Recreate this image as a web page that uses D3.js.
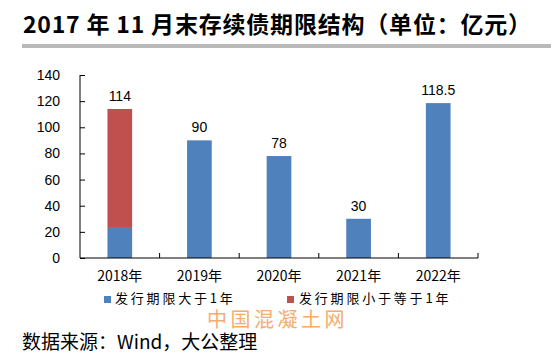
<!DOCTYPE html>
<html><head><meta charset="utf-8">
<script src="https://cdn.jsdelivr.net/npm/d3@7/dist/d3.min.js"></script>
<style>body{margin:0;background:#fff}svg{display:block}</style>
</head><body>
<script>
const categories = ["2018年","2019年","2020年","2021年","2022年"];
const longTerm = [23, 90, 78, 30, 118.5];   // 发行期限大于1年
const shortTerm = [91, 0, 0, 0, 0];         // 发行期限小于等于1年
const totalLabels = ["114","90","78","30","118.5"];
const yTicks = [0,20,40,60,80,100,120,140];
const seriesNames = ["发行期限大于1年","发行期限小于等于1年"];
const colors = ["#4f81bd","#c0504d"];

const W = 551, H = 357;
const svg = d3.select("body").append("svg").attr("width", W).attr("height", H);
const cjk = "'Noto Sans CJK SC','Noto Sans',sans-serif";
const lat = "'Liberation Sans',Arial,sans-serif";

// title
svg.append("text").attr("x", 23).attr("y", 33)
  .attr("font-family", cjk).attr("font-weight", "bold").attr("font-size", 23)
  .attr("letter-spacing", 0.8)
  .attr("fill", "#000").text("2017 年 11 月末存续债期限结构（单位：亿元）");
svg.append("rect").attr("x", 22).attr("y", 44).attr("width", W - 22).attr("height", 4).attr("fill", "#b9b9b9");

const x = d3.scaleBand().domain(categories).range([80, 478]).paddingInner(0.69).paddingOuter(0.345);
const y = d3.scaleLinear().domain([0, 140]).range([258, 75]);

const data = categories.map((c, i) => ({c, a: longTerm[i], b: shortTerm[i], lab: totalLabels[i]}));
const stack = d3.stack().keys(["a","b"])(data);

svg.append("g").selectAll("g").data(stack).join("g")
  .attr("fill", (d, i) => colors[i])
  .selectAll("rect").data(d => d).join("rect")
  .attr("x", d => x(d.data.c)).attr("width", x.bandwidth())
  .attr("y", d => y(d[1])).attr("height", d => y(d[0]) - y(d[1]));

// y axis
const ya = svg.append("g").attr("transform", "translate(80,0)")
  .call(d3.axisLeft(y).tickValues(yTicks).tickSize(-5).tickPadding(20));
ya.select(".domain").attr("stroke", "#000").attr("d", "M0,75V258");
ya.selectAll(".tick line").attr("stroke", "#000");
ya.selectAll("text").attr("font-family", lat).attr("font-size", 14).attr("fill", "#000");

// x axis
const xa = svg.append("g").attr("transform", "translate(0,258)")
  .call(d3.axisBottom(x).tickSize(0).tickPadding(10));
xa.select(".domain").attr("stroke", "#000").attr("d", "M80,0H478");
xa.selectAll("text").attr("font-family", cjk).attr("font-size", 14).attr("fill", "#000").attr("dy", "0.9em");
const bounds = categories.map(c => x(c) - x.step() * x.paddingInner() / 2).concat([478]);
xa.selectAll(".bt").data(bounds.slice(1)).join("line").attr("class", "bt")
  .attr("x1", d => d).attr("x2", d => d).attr("y1", 0).attr("y2", -5).attr("stroke", "#000");

// value labels
svg.append("g").selectAll("text").data(data).join("text")
  .attr("x", d => x(d.c) + x.bandwidth() / 2).attr("y", d => y(d.a + d.b) - 8)
  .attr("text-anchor", "middle").attr("font-family", lat).attr("font-size", 14).attr("fill", "#000")
  .text(d => d.lab);

// legend
const lg = [{x: 104, tx: 115}, {x: 287, tx: 299}];
seriesNames.forEach((n, i) => {
  svg.append("rect").attr("x", lg[i].x).attr("y", 296).attr("width", 7).attr("height", 7).attr("fill", colors[i]);
  svg.append("text").attr("x", lg[i].tx).attr("y", 303).attr("font-family", cjk).attr("font-size", 13)
    .attr("letter-spacing", 2.8).attr("fill", "#000").text(n);
});

// watermark
svg.append("text").attr("x", 207).attr("y", 327).attr("font-family", cjk).attr("font-size", 20)
  .attr("letter-spacing", 3.5).attr("fill", "#f4a460").attr("opacity", 0.9).text("中国混凝土网");

// source
svg.append("text").attr("x", 22).attr("y", 349).attr("font-family", cjk).attr("font-size", 19)
  .attr("fill", "#000").text("数据来源：Wind，大公整理");
</script>
</body></html>
